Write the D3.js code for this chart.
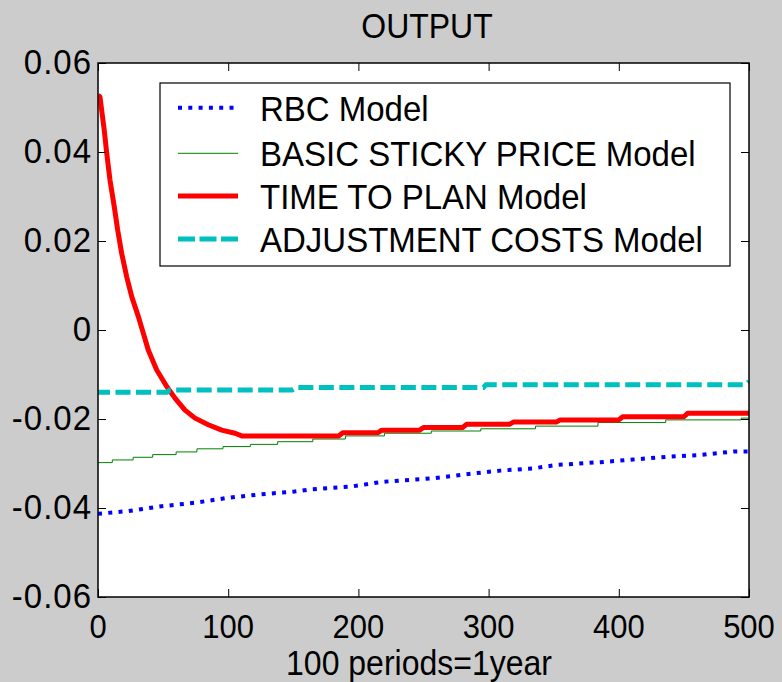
<!DOCTYPE html>
<html><head><meta charset="utf-8">
<script src="https://cdn.jsdelivr.net/npm/d3@7"></script>
<style>body{margin:0;background:#cccccc}svg{display:block}</style>
</head><body>
<svg id="c" width="782" height="682"></svg>
<script>
const xTicks = [0, 100, 200, 300, 400, 500];
const yTicks = [0.06, 0.04, 0.02, 0, -0.02, -0.04, -0.06];
const yTickLabels = ["0.06", "0.04", "0.02", "0", "-0.02", "-0.04", "-0.06"];
const seriesNames = ["RBC Model", "BASIC STICKY PRICE Model", "TIME TO PLAN Model", "ADJUSTMENT COSTS Model"];

const rbcX = [0, 23, 49, 75, 100, 126, 151, 164, 194, 219, 258, 283, 309, 334, 353, 386, 411, 437, 462, 488, 500];
const rbcY = [-0.0413, -0.0407, -0.0396, -0.0388, -0.0377, -0.0369, -0.0363, -0.0358, -0.0352, -0.0341, -0.0333, -0.0324, -0.0316, -0.0311, -0.0303, -0.0297, -0.0291, -0.0285, -0.0281, -0.0273, -0.0273];

const stickyX = [0, 11, 27, 42, 60, 76, 96, 117, 138, 165, 190, 220, 256, 294, 336, 384, 436, 494, 500];
const stickyY = [-0.0298, -0.0292, -0.0286, -0.0280, -0.0274, -0.0267, -0.0262, -0.0257, -0.0251, -0.0245, -0.0238, -0.0232, -0.0227, -0.0222, -0.0216, -0.0208, -0.0202, -0.0198, -0.0198];

const ttpX = [0, 1.5, 4.8, 6.7, 9.2, 12.5, 15.1, 18.2, 22, 25.9, 31, 35.6, 38.6, 45.1, 52.8, 59.1, 66.8, 74.5, 84.7, 95, 105.2, 110.4, 185, 188, 215, 218, 247, 250, 280, 283, 316, 319, 352, 355, 400, 403, 450, 453, 500];
const ttpY = [0.0528, 0.0524, 0.0449, 0.0397, 0.0337, 0.0277, 0.0225, 0.0172, 0.0120, 0.0075, 0.0030, -0.0015, -0.0045, -0.0090, -0.0127, -0.0153, -0.0180, -0.0198, -0.0213, -0.0225, -0.0232, -0.0238, -0.0238, -0.0231, -0.0231, -0.0225, -0.0225, -0.0219, -0.0219, -0.0212, -0.0212, -0.0207, -0.0207, -0.0202, -0.0202, -0.0195, -0.0195, -0.0187, -0.0187];

const adjX = [0, 53, 55, 149, 152, 296, 298, 497, 500];
const adjY = [-0.0140, -0.0140, -0.0135, -0.0135, -0.0129, -0.0129, -0.0123, -0.0123, -0.0116];

const svg = d3.select("#c");
const L = 98, R = 749, T = 63, B = 597;
const x = d3.scaleLinear().domain([0, 500]).range([L, R]);
const y = d3.scaleLinear().domain([-0.06, 0.06]).range([B, T]);
const FONT = "'Liberation Sans', Arial, Helvetica, sans-serif";

function txt(g, tx, ty, s, anchor, size) {
  return g.append("text")
    .attr("transform", `translate(${tx},${ty}) scale(1,1.07)`)
    .attr("text-anchor", anchor)
    .attr("font-family", FONT)
    .attr("font-size", size)
    .attr("fill", "#000")
    .text(s);
}

svg.append("rect").attr("width", 782).attr("height", 682).attr("fill", "#cccccc");
svg.append("rect").attr("x", L).attr("y", T).attr("width", R - L).attr("height", B - T).attr("fill", "#fff");

svg.append("clipPath").attr("id", "clip").append("rect")
  .attr("x", L).attr("y", T).attr("width", R - L).attr("height", B - T);

const plot = svg.append("g").attr("clip-path", "url(#clip)");
const lineGen = d3.line().x(d => x(d[0])).y(d => y(d[1]));
const zip = (a, b) => a.map((v, i) => [v, b[i]]);

plot.append("path").datum(zip(rbcX, rbcY)).attr("d", lineGen)
  .attr("fill", "none").attr("stroke", "#0000ff").attr("stroke-width", 4)
  .attr("stroke-dasharray", "4 6.3");
plot.append("path").datum(zip(stickyX, stickyY)).attr("d", lineGen.curve(d3.curveStepAfter))
  .attr("fill", "none").attr("stroke", "#008000").attr("stroke-width", 1);
lineGen.curve(d3.curveLinear);
plot.append("path").datum(zip(ttpX, ttpY)).attr("d", lineGen)
  .attr("fill", "none").attr("stroke", "#ff0000").attr("stroke-width", 5).attr("stroke-linejoin", "round");
plot.append("path").datum(zip(adjX, adjY)).attr("d", lineGen)
  .attr("fill", "none").attr("stroke", "#00bfbf").attr("stroke-width", 5)
  .attr("stroke-dasharray", "15 5.5").attr("stroke-dashoffset", 3);

// axes with inward ticks on all four sides
const TL = 8;
const axB = svg.append("g").attr("transform", `translate(0,${B})`)
  .call(d3.axisBottom(x).tickValues(xTicks).tickSizeInner(-TL).tickSizeOuter(0));
const axT = svg.append("g").attr("transform", `translate(0,${T})`)
  .call(d3.axisTop(x).tickValues(xTicks).tickSizeInner(-TL).tickSizeOuter(0).tickFormat(""));
const axL = svg.append("g").attr("transform", `translate(${L},0)`)
  .call(d3.axisLeft(y).tickValues(yTicks).tickSizeInner(-TL).tickSizeOuter(0));
const axR = svg.append("g").attr("transform", `translate(${R},0)`)
  .call(d3.axisRight(y).tickValues(yTicks).tickSizeInner(-TL).tickSizeOuter(0).tickFormat(""));
[axB, axT, axL, axR].forEach(a => {
  a.select(".domain").remove();
  a.selectAll(".tick line").attr("stroke", "#000").attr("stroke-width", 1);
  a.selectAll(".tick text").remove();
});
const labels = svg.append("g");
xTicks.forEach(v => txt(labels, x(v), 638, String(v), "middle", 31));
yTicks.forEach((v, i) => txt(labels, 92, y(v) + 11, yTickLabels[i], "end", 33).attr("letter-spacing", 1));

svg.append("rect").attr("x", L).attr("y", T).attr("width", R - L).attr("height", B - T)
  .attr("fill", "none").attr("stroke", "#000").attr("stroke-width", 1.5);

// title and x label
txt(svg, 427, 38, "OUTPUT", "middle", 32);
txt(svg, 419, 675, "100 periods=1year", "middle", 32);

// legend
const lg = svg.append("g");
lg.append("rect").attr("x", 160).attr("y", 83).attr("width", 570).attr("height", 183)
  .attr("fill", "#fff").attr("stroke", "#000").attr("stroke-width", 1.2);
const rowY = [107.7, 153.3, 196, 239];
const styles = [
  {c: "#0000ff", w: 4, d: "4 6.3"},
  {c: "#008000", w: 1, d: null},
  {c: "#ff0000", w: 5, d: null},
  {c: "#00bfbf", w: 5, d: "17 4.5"}
];
seriesNames.forEach((n, i) => {
  const s = styles[i];
  const ln = lg.append("line").attr("x1", 178).attr("x2", 238).attr("y1", rowY[i]).attr("y2", rowY[i])
    .attr("stroke", s.c).attr("stroke-width", s.w);
  if (s.d) ln.attr("stroke-dasharray", s.d);
  txt(lg, 260, rowY[i] + 13, n, "start", 33);
});
</script>
</body></html>
